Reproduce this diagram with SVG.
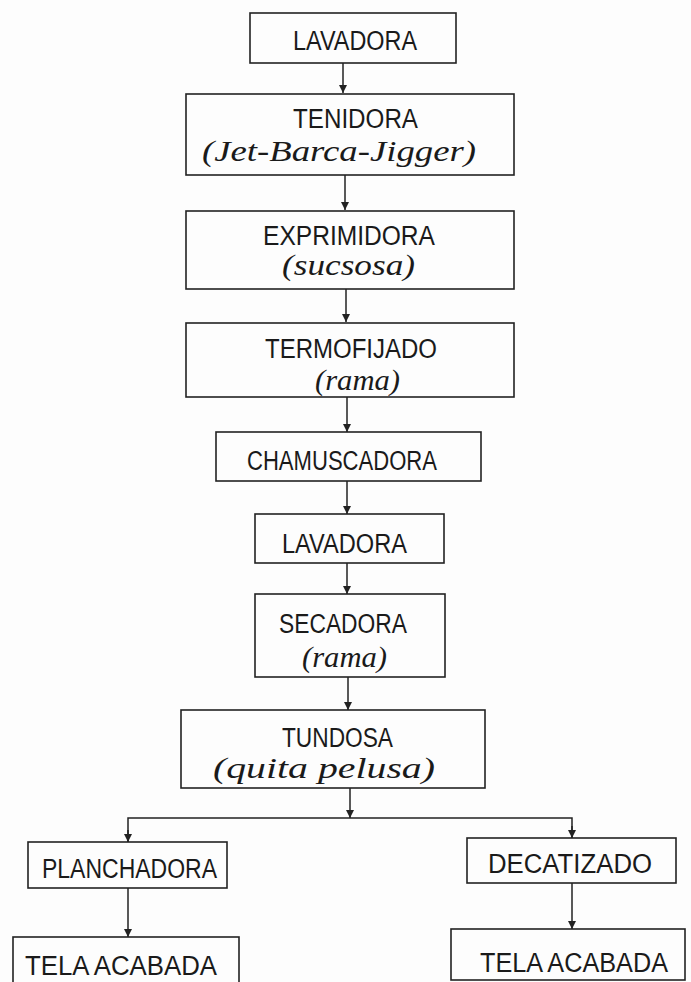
<svg xmlns="http://www.w3.org/2000/svg" width="691" height="982" viewBox="0 0 691 982">
  <style>
    .box { fill: none; stroke: #222; stroke-width: 1.6; }
    .link { fill: none; stroke: #222; stroke-width: 1.5; }
    .cap { font-family: "Liberation Sans", "DejaVu Sans", sans-serif; font-size: 27px; fill: #1a1a1a; }
    .sub { font-family: "Liberation Serif", "DejaVu Serif", serif; font-style: italic; font-size: 30px; fill: #1a1a1a; }
  </style>
  <defs>
    <marker id="arrow" viewBox="0 0 10 10" refX="10" refY="5" markerWidth="10" markerHeight="8" markerUnits="userSpaceOnUse" orient="auto">
      <path d="M0,0 L10,5 L0,10 z" fill="#222"/>
    </marker>
  </defs>
  <rect width="691" height="982" fill="#fdfdfd"/>

  <g id="connectors">
    <path class="link" d="M343,63 V93" marker-end="url(#arrow)"/>
    <path class="link" d="M345,175 V210" marker-end="url(#arrow)"/>
    <path class="link" d="M346,289 V322" marker-end="url(#arrow)"/>
    <path class="link" d="M347,397 V432" marker-end="url(#arrow)"/>
    <path class="link" d="M347,481 V514" marker-end="url(#arrow)"/>
    <path class="link" d="M347,563 V594" marker-end="url(#arrow)"/>
    <path class="link" d="M348,677 V710" marker-end="url(#arrow)"/>
    <path class="link" d="M350,788 V818" marker-end="url(#arrow)"/>
    <path class="link" d="M128,842 V818 H572 V838"/>
    <path class="link" d="M128,830 V842" marker-end="url(#arrow)"/>
    <path class="link" d="M572,826 V838" marker-end="url(#arrow)"/>
    <path class="link" d="M128,888 V937" marker-end="url(#arrow)"/>
    <path class="link" d="M572,883 V929" marker-end="url(#arrow)"/>
  </g>

  <g id="lavadora-1">
    <rect class="box" x="250" y="13" width="206" height="50"/>
    <text class="cap" x="293" y="50" textLength="124" lengthAdjust="spacingAndGlyphs">LAVADORA</text>
  </g>
  <g id="tenidora">
    <rect class="box" x="186" y="94" width="328" height="81"/>
    <text class="cap" x="293" y="128" textLength="125" lengthAdjust="spacingAndGlyphs">TENIDORA</text>
    <text class="sub" x="202" y="161" textLength="274" lengthAdjust="spacingAndGlyphs">(Jet-Barca-Jigger)</text>
  </g>
  <g id="exprimidora">
    <rect class="box" x="186" y="211" width="328" height="78"/>
    <text class="cap" x="263" y="245" textLength="172" lengthAdjust="spacingAndGlyphs">EXPRIMIDORA</text>
    <text class="sub" x="282" y="275" textLength="133" lengthAdjust="spacingAndGlyphs">(sucsosa)</text>
  </g>
  <g id="termofijado">
    <rect class="box" x="186" y="323" width="328" height="74"/>
    <text class="cap" x="265" y="358" textLength="172" lengthAdjust="spacingAndGlyphs">TERMOFIJADO</text>
    <text class="sub" x="315" y="390" textLength="85" lengthAdjust="spacingAndGlyphs">(rama)</text>
  </g>
  <g id="chamuscadora">
    <rect class="box" x="216" y="432" width="265" height="49"/>
    <text class="cap" x="247" y="470" textLength="190" lengthAdjust="spacingAndGlyphs">CHAMUSCADORA</text>
  </g>
  <g id="lavadora-2">
    <rect class="box" x="255" y="514" width="189" height="49"/>
    <text class="cap" x="282" y="553" textLength="125" lengthAdjust="spacingAndGlyphs">LAVADORA</text>
  </g>
  <g id="secadora">
    <rect class="box" x="255" y="594" width="190" height="83"/>
    <text class="cap" x="279" y="633" textLength="128" lengthAdjust="spacingAndGlyphs">SECADORA</text>
    <text class="sub" x="302" y="667" textLength="85" lengthAdjust="spacingAndGlyphs">(rama)</text>
  </g>
  <g id="tundosa">
    <rect class="box" x="181" y="710" width="304" height="78"/>
    <text class="cap" x="282" y="747" textLength="111" lengthAdjust="spacingAndGlyphs">TUNDOSA</text>
    <text class="sub" x="213" y="778" textLength="222" lengthAdjust="spacingAndGlyphs">(quita pelusa)</text>
  </g>
  <g id="planchadora">
    <rect class="box" x="28" y="842" width="199" height="46"/>
    <text class="cap" x="42" y="878" textLength="175" lengthAdjust="spacingAndGlyphs">PLANCHADORA</text>
  </g>
  <g id="decatizado">
    <rect class="box" x="467" y="838" width="209" height="45"/>
    <text class="cap" x="488" y="873" textLength="164" lengthAdjust="spacingAndGlyphs">DECATIZADO</text>
  </g>
  <g id="tela-acabada-1">
    <rect class="box" x="13" y="937" width="226" height="60"/>
    <text class="cap" x="25" y="975" textLength="192" lengthAdjust="spacingAndGlyphs">TELA ACABADA</text>
  </g>
  <g id="tela-acabada-2">
    <rect class="box" x="451" y="929" width="234" height="51"/>
    <text class="cap" x="480" y="972" textLength="188" lengthAdjust="spacingAndGlyphs">TELA ACABADA</text>
  </g>
</svg>
